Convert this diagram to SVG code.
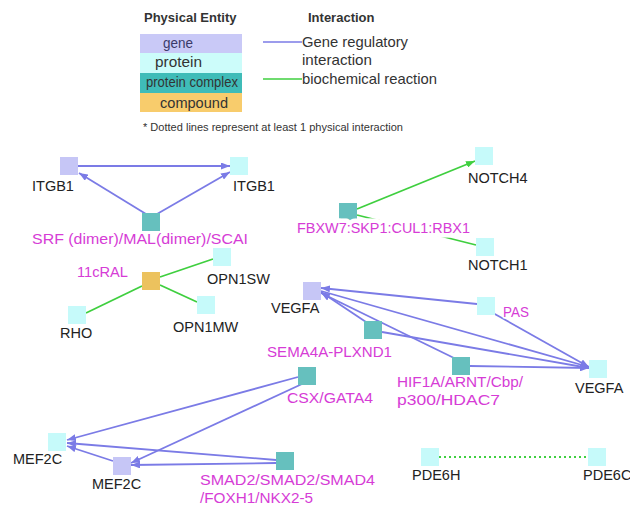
<svg xmlns="http://www.w3.org/2000/svg" width="630" height="508" viewBox="0 0 630 508">
<style>
text{font-family:"Liberation Sans",Arial,sans-serif}
.lbl{font-size:14.5px;fill:#222;stroke:#fff;stroke-width:3;paint-order:stroke;stroke-linejoin:round}
.mag{fill:#d63cd6}
.hdr{font-size:13px;font-weight:bold;fill:#333}
.lg{font-size:14.5px;fill:#333}
.gene{fill:#c6c6f6}
.prot{fill:#c6fafa}
.cplx{fill:#66c0be}
.cmpd{fill:#ecc25e}
.reg{stroke:#7b7be6;stroke-width:1.8;fill:none}
.bio{stroke:#3fcf3f;stroke-width:1.8;fill:none}
.dot{stroke:#3fcf3f;stroke-width:1.8;stroke-dasharray:2 3;fill:none}
</style>
<defs>
<marker id="ab" markerUnits="userSpaceOnUse" markerWidth="9" markerHeight="7" refX="9" refY="3.5" orient="auto"><path d="M0,0 L9,3.5 L0,7 z" fill="#7b7be6"/></marker>
<marker id="ag" markerUnits="userSpaceOnUse" markerWidth="9" markerHeight="7" refX="9" refY="3.5" orient="auto"><path d="M0,0 L9,3.5 L0,7 z" fill="#3fcf3f"/></marker>
</defs>
<rect width="630" height="508" fill="#fff"/>

<g id="legend">
<text class="hdr" x="144" y="22">Physical Entity</text>
<text class="hdr" x="308" y="22">Interaction</text>
<rect x="140" y="34" width="102" height="19" fill="#c9c9f7"/>
<rect x="140" y="53" width="102" height="20" fill="#ccfcfa"/>
<rect x="140" y="73" width="102" height="20" fill="#3fbcb8"/>
<rect x="140" y="93" width="102" height="19" fill="#f8cc6c"/>
<text class="lg" x="163" y="48" style="fill:#3a3a6a" textLength="30" lengthAdjust="spacingAndGlyphs">gene</text>
<text class="lg" x="155" y="67" textLength="47" lengthAdjust="spacingAndGlyphs">protein</text>
<text class="lg" x="146" y="87" textLength="92" lengthAdjust="spacingAndGlyphs">protein complex</text>
<text class="lg" x="160" y="108" textLength="68" lengthAdjust="spacingAndGlyphs">compound</text>
<line x1="263" y1="42" x2="302" y2="42" stroke="#7b7be6" stroke-width="1.5"/>
<line x1="263" y1="79" x2="302" y2="79" stroke="#3fcf3f" stroke-width="1.5"/>
<text class="lg" x="302" y="47" textLength="106" lengthAdjust="spacingAndGlyphs">Gene regulatory</text>
<text class="lg" x="302" y="65" textLength="70" lengthAdjust="spacingAndGlyphs">interaction</text>
<text class="lg" x="302" y="84" textLength="135" lengthAdjust="spacingAndGlyphs">biochemical reaction</text>
<text x="143" y="131" style="font-size:10.5px;fill:#333" textLength="260" lengthAdjust="spacingAndGlyphs">* Dotted lines represent at least 1 physical interaction</text>
</g>

<g id="connectors">
<line class="reg" x1="78" y1="166" x2="230" y2="166" marker-end="url(#ab)"/>
<line class="reg" x1="146" y1="214" x2="79" y2="173" marker-end="url(#ab)"/>
<line class="reg" x1="157" y1="214" x2="230" y2="172" marker-end="url(#ab)"/>
<line class="bio" x1="160" y1="277" x2="213" y2="259"/>
<line class="bio" x1="160" y1="285" x2="197" y2="302"/>
<line class="bio" x1="86" y1="313" x2="142" y2="286"/>
<line class="bio" x1="357" y1="209" x2="475" y2="161" marker-end="url(#ag)"/>
<line class="bio" x1="357" y1="215" x2="476" y2="245"/>
<line class="reg" x1="477" y1="304" x2="321" y2="288" marker-end="url(#ab)"/>
<line class="reg" x1="493" y1="313" x2="589" y2="367" marker-end="url(#ab)"/>
<line class="reg" x1="321" y1="291" x2="589" y2="367" marker-end="url(#ab)"/>
<line class="reg" x1="366" y1="322" x2="321" y2="292" marker-end="url(#ab)"/>
<line class="reg" x1="382" y1="332" x2="589" y2="368" marker-end="url(#ab)"/>
<line class="reg" x1="454" y1="358" x2="321" y2="293" marker-end="url(#ab)"/>
<line class="reg" x1="470" y1="366" x2="589" y2="368" marker-end="url(#ab)"/>
<line class="reg" x1="298" y1="377" x2="67" y2="440" marker-end="url(#ab)"/>
<line class="reg" x1="302" y1="384" x2="131" y2="463" marker-end="url(#ab)"/>
<line class="reg" x1="276" y1="460" x2="67" y2="443" marker-end="url(#ab)"/>
<line class="reg" x1="276" y1="463" x2="131" y2="465" marker-end="url(#ab)"/>
<line class="reg" x1="113" y1="461" x2="67" y2="446" marker-end="url(#ab)"/>
<line class="dot" x1="439" y1="457" x2="588" y2="457"/>
</g>

<g id="n-itgb1-gene"><rect class="gene" x="60" y="157" width="18" height="18"/><text class="lbl" x="32" y="191">ITGB1</text></g>
<g id="n-itgb1-prot"><rect class="prot" x="230" y="157" width="18" height="18"/><text class="lbl" x="233" y="191">ITGB1</text></g>
<g id="n-srf"><rect class="cplx" x="142" y="213" width="18" height="18"/><text class="lbl mag" x="32" y="244" textLength="216" lengthAdjust="spacingAndGlyphs">SRF (dimer)/MAL(dimer)/SCAI</text></g>
<g id="n-11cral"><rect class="cmpd" x="142" y="272" width="18" height="18"/><text class="lbl mag" x="77" y="277" textLength="51" lengthAdjust="spacingAndGlyphs">11cRAL</text></g>
<g id="n-opn1sw"><rect class="prot" x="213" y="248" width="18" height="18"/><text class="lbl" x="207" y="284">OPN1SW</text></g>
<g id="n-opn1mw"><rect class="prot" x="197" y="296" width="18" height="18"/><text class="lbl" x="173" y="332">OPN1MW</text></g>
<g id="n-rho"><rect class="prot" x="68" y="306" width="18" height="18"/><text class="lbl" x="60" y="338">RHO</text></g>
<g id="n-notch4"><rect class="prot" x="475" y="147" width="18" height="18"/><text class="lbl" x="468" y="183">NOTCH4</text></g>
<g id="n-fbxw7"><rect class="cplx" x="339" y="203" width="18" height="18"/><text class="lbl mag" x="297" y="233" style="stroke-width:9" textLength="173" lengthAdjust="spacingAndGlyphs">FBXW7:SKP1:CUL1:RBX1</text></g>
<g id="n-notch1"><rect class="prot" x="476" y="238" width="18" height="18"/><text class="lbl" x="468" y="270">NOTCH1</text></g>
<g id="n-vegfa-gene"><rect class="gene" x="303" y="282" width="18" height="18"/><text class="lbl" x="271" y="313">VEGFA</text></g>
<g id="n-pas"><rect class="prot" x="477" y="297" width="18" height="18"/><text class="lbl mag" x="503" y="317" textLength="26" lengthAdjust="spacingAndGlyphs">PAS</text></g>
<g id="n-sema4a"><rect class="cplx" x="364" y="321" width="18" height="18"/><text class="lbl mag" x="267" y="357" textLength="125" lengthAdjust="spacingAndGlyphs">SEMA4A-PLXND1</text></g>
<g id="n-hif1a"><rect class="cplx" x="452" y="357" width="18" height="18"/><text class="lbl mag" x="397" y="387" textLength="126" lengthAdjust="spacingAndGlyphs">HIF1A/ARNT/Cbp/</text><text class="lbl mag" x="397" y="405" textLength="103" lengthAdjust="spacingAndGlyphs">p300/HDAC7</text></g>
<g id="n-vegfa-prot"><rect class="prot" x="589" y="360" width="18" height="18"/><text class="lbl" x="575" y="393">VEGFA</text></g>
<g id="n-csx"><rect class="cplx" x="298" y="367" width="18" height="18"/><text class="lbl mag" x="287" y="403" textLength="86" lengthAdjust="spacingAndGlyphs">CSX/GATA4</text></g>
<g id="n-mef2c-prot"><rect class="prot" x="48" y="433" width="18" height="18"/><text class="lbl" x="13" y="464">MEF2C</text></g>
<g id="n-mef2c-gene"><rect class="gene" x="113" y="457" width="18" height="18"/><text class="lbl" x="92" y="489">MEF2C</text></g>
<g id="n-smad"><rect class="cplx" x="276" y="452" width="18" height="18"/><text class="lbl mag" x="200" y="485" textLength="175" lengthAdjust="spacingAndGlyphs">SMAD2/SMAD2/SMAD4</text><text class="lbl mag" x="200" y="503" textLength="113" lengthAdjust="spacingAndGlyphs">/FOXH1/NKX2-5</text></g>
<g id="n-pde6h"><rect class="prot" x="421" y="448" width="18" height="18"/><text class="lbl" x="412" y="480">PDE6H</text></g>
<g id="n-pde6c"><rect class="prot" x="588" y="448" width="18" height="18"/><text class="lbl" x="583" y="480">PDE6C</text></g>
</svg>
